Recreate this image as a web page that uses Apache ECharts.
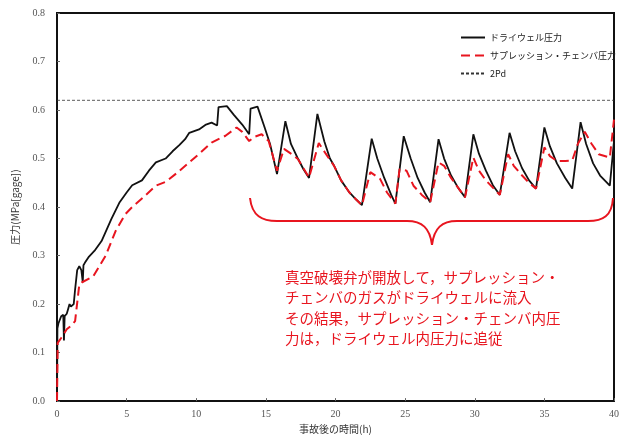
<!DOCTYPE html>
<html><head><meta charset="utf-8">
<script src="https://cdn.jsdelivr.net/npm/echarts@6/dist/echarts.min.js"></script>
<style>html,body{margin:0;padding:0;background:#fff}#c{width:622px;height:439px}</style>
</head><body><div id="c"></div>
<script>
const xTicks = [0,5,10,15,20,25,30,35,40];
const yTicks = [0,0.1,0.2,0.3,0.4,0.5,0.6,0.7,0.8];
const seriesNames = ['ドライウェル圧力','サプレッション・チェンバ圧力','2Pd'];

const dwTime = [0,0.03,0.1,0.3,0.45,0.5,0.55,0.7,0.8,0.9,1.0,1.2,1.3,1.45,1.6,1.75,1.85,1.9,2.0,2.3,2.7,3.2,3.9,4.5,5.0,5.4,6.1,6.6,7.1,7.8,8.3,8.8,9.2,9.5,10.2,10.7,11.1,11.5,11.6,12.2,12.7,13.3,13.8,13.9,14.4,14.9,15.3,15.8,16.4,16.8,17.3,17.7,18.1,18.7,19.2,19.6,19.9,20.4,21.0,21.5,21.9,22.6,23.0,23.5,24.0,24.3,24.9,25.4,25.9,26.4,26.8,27.4,27.8,28.3,28.8,29.3,29.9,30.3,30.8,31.3,31.8,32.5,32.9,33.4,33.9,34.4,35.0,35.4,35.9,36.5,37.0,37.6,38.0,38.5,39.0,39.7,40.0];
const dwValue = [0,0.15,0.16,0.175,0.178,0.125,0.175,0.18,0.19,0.2,0.195,0.2,0.23,0.27,0.278,0.27,0.245,0.28,0.285,0.298,0.31,0.33,0.375,0.41,0.43,0.445,0.455,0.475,0.492,0.5,0.515,0.528,0.54,0.553,0.56,0.57,0.574,0.568,0.606,0.608,0.59,0.57,0.55,0.603,0.607,0.565,0.53,0.468,0.577,0.53,0.5,0.478,0.46,0.592,0.535,0.5,0.485,0.455,0.43,0.415,0.404,0.541,0.5,0.46,0.425,0.407,0.546,0.5,0.46,0.43,0.41,0.54,0.5,0.465,0.44,0.42,0.55,0.51,0.475,0.445,0.425,0.553,0.515,0.48,0.455,0.438,0.564,0.525,0.49,0.46,0.438,0.575,0.53,0.49,0.465,0.444,0.536];

const scTime = [0,0.05,0.3,0.7,1.0,1.3,1.6,1.8,2.6,3.5,4.2,4.9,5.4,6.2,7.1,7.8,8.6,9.5,10.3,11.1,12.1,12.9,13.3,13.8,14.2,14.7,15.2,15.8,16.3,16.8,17.3,18.1,18.8,19.3,19.9,20.4,21.0,21.5,21.9,22.5,23.2,23.7,24.3,24.6,25.1,25.6,26.2,26.8,27.4,27.8,28.3,28.8,29.3,29.9,30.3,30.8,31.3,31.8,32.4,32.8,33.4,33.9,34.4,35.0,35.4,35.9,36.5,37.0,37.4,37.9,38.4,38.9,39.7,40.0];
const scValue = [0,0.12,0.13,0.148,0.155,0.165,0.24,0.245,0.257,0.3,0.35,0.385,0.40,0.42,0.444,0.452,0.47,0.492,0.512,0.533,0.547,0.564,0.555,0.536,0.545,0.55,0.536,0.475,0.52,0.51,0.499,0.461,0.532,0.51,0.485,0.455,0.43,0.415,0.404,0.472,0.458,0.43,0.407,0.478,0.475,0.444,0.425,0.41,0.492,0.485,0.46,0.44,0.42,0.502,0.475,0.455,0.44,0.425,0.509,0.485,0.465,0.45,0.438,0.523,0.505,0.495,0.495,0.496,0.53,0.555,0.53,0.509,0.502,0.58];

const pdTime = [0,40];
const pdValue = [0.62,0.62];

const noteLines = ['真空破壊弁が開放して，サプレッション・','チェンバのガスがドライウェルに流入','その結果，サプレッション・チェンバ内圧','力は，ドライウェル内圧力に追従'];

const zip = (a,b)=>a.map((t,i)=>[t,b[i]]);
const serif = '"Liberation Serif","DejaVu Serif",serif';
const jp = '"Noto Sans CJK JP",sans-serif';
const chart = echarts.init(document.getElementById('c'));
const red = '#e8151f';

const graphics = [
  {type:'bezierCurve', silent:true, shape:{x1:250,y1:198,x2:277,y2:221,cpx1:252,cpy1:216,cpx2:262,cpy2:221}, style:{stroke:red,lineWidth:2,fill:null}},
  {type:'line', silent:true, shape:{x1:277,y1:221,x2:407,y2:221}, style:{stroke:red,lineWidth:2}},
  {type:'bezierCurve', silent:true, shape:{x1:407,y1:221,x2:432,y2:245,cpx1:422,cpy1:221,cpx2:430,cpy2:228}, style:{stroke:red,lineWidth:2,fill:null}},
  {type:'bezierCurve', silent:true, shape:{x1:432,y1:245,x2:457,y2:221,cpx1:434,cpy1:228,cpx2:442,cpy2:221}, style:{stroke:red,lineWidth:2,fill:null}},
  {type:'line', silent:true, shape:{x1:457,y1:221,x2:588,y2:221}, style:{stroke:red,lineWidth:2}},
  {type:'bezierCurve', silent:true, shape:{x1:588,y1:221,x2:613,y2:198,cpx1:603,cpy1:221,cpx2:612,cpy2:216}, style:{stroke:red,lineWidth:2,fill:null}}
];
noteLines.forEach((s,i)=>{
  graphics.push({type:'text', silent:true, left:285, top:270+i*20.5, style:{text:s, fill:red, font:'14.5px '+jp}});
});

chart.setOption({
  animation:false,
  backgroundColor:'#fff',
  grid:{left:57,right:5,top:13,bottom:35,show:true,borderColor:'#111',borderWidth:2,backgroundColor:'transparent'},
  legend:{
    orient:'vertical', left:455, top:28, itemWidth:24, itemHeight:10, itemGap:9,
    itemStyle:{opacity:0},
    data:seriesNames, textStyle:{fontSize:9,color:'#222',fontFamily:jp}
  },
  xAxis:{
    type:'value', min:0, max:40, interval:5,
    name:'事故後の時間(h)', nameLocation:'middle', nameGap:22,
    nameTextStyle:{fontSize:10,color:'#333',fontFamily:jp},
    axisLine:{lineStyle:{color:'#111',width:2}},
    axisTick:{inside:true,length:3,lineStyle:{color:'#666'}},
    splitLine:{show:false},
    axisLabel:{fontSize:10,color:'#555',fontFamily:serif,margin:8,formatter:v=>xTicks.includes(v)?String(v):''}
  },
  yAxis:{
    type:'value', min:0, max:0.8, interval:0.1,
    name:'圧力(MPa[gage])', nameLocation:'middle', nameGap:37, nameRotate:90,
    nameTextStyle:{fontSize:10,color:'#333',fontFamily:jp},
    axisLine:{lineStyle:{color:'#111',width:2}},
    axisTick:{inside:true,length:3,lineStyle:{color:'#666'}},
    splitLine:{show:false},
    axisLabel:{fontSize:10,color:'#555',fontFamily:serif,margin:12,formatter:v=>v.toFixed(1)}
  },
  series:[
    {name:seriesNames[0], type:'line', data:zip(dwTime,dwValue), symbol:'none', z:3,
     lineStyle:{color:'#111',width:1.8}, itemStyle:{color:'#111'}},
    {name:seriesNames[1], type:'line', data:zip(scTime,scValue), symbol:'none', z:4,
     lineStyle:{color:red,width:2,type:[9,5]}, itemStyle:{color:red}},
    {name:seriesNames[2], type:'line', data:zip(pdTime,pdValue), symbol:'none', z:2,
     lineStyle:{color:'#333',width:0.8,type:[3,2]}, itemStyle:{color:'#333'}}
  ],
  graphic:graphics
});
</script></body></html>
